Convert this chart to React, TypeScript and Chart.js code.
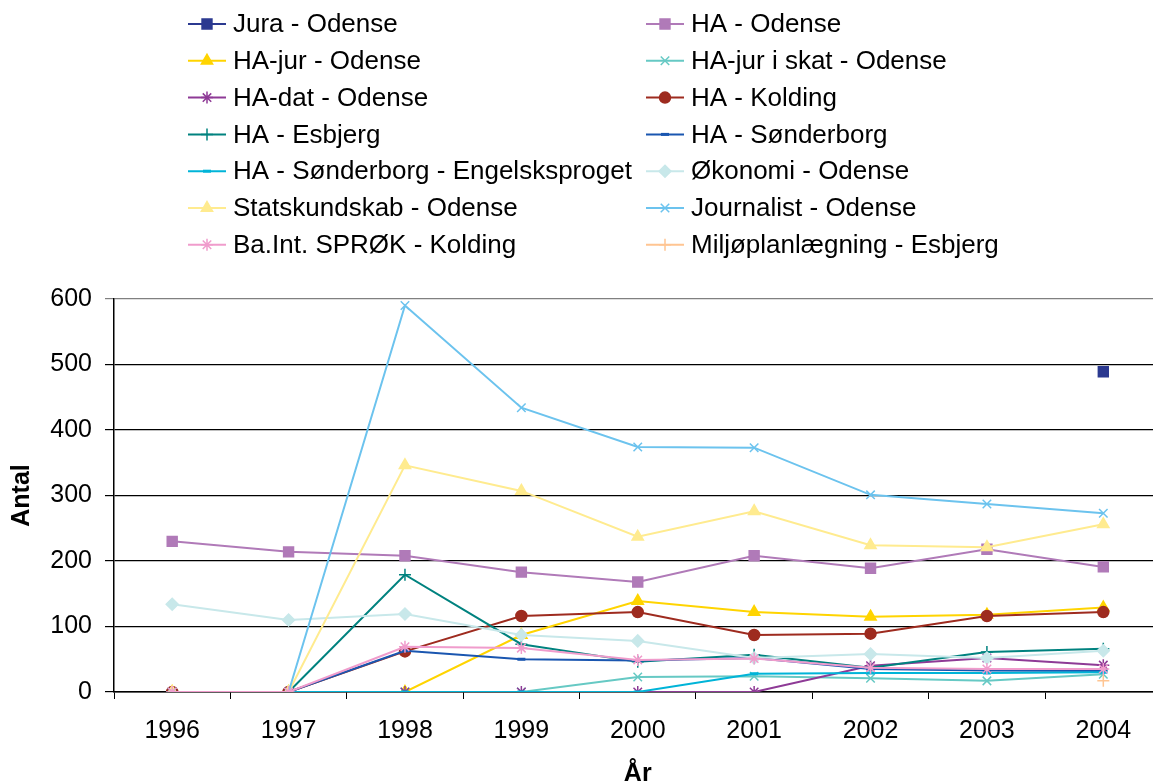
import React, { useEffect, useRef } from "react";
import { Chart, registerables } from "chart.js";
import { drawPoint } from "chart.js/helpers";

Chart.register(...registerables);

const years = ["1996", "1997", "1998", "1999", "2000", "2001", "2002", "2003", "2004"];
const yTicks = [0, 100, 200, 300, 400, 500, 600];

const juraOdense = [null, null, null, null, null, null, null, null, 489];
const haOdense = [230, 214, 208, 183, 168, 208, 189, 218, 191];
const haJurOdense = [0, 0, 0, 87, 139, 122, 115, 118, 129];
const haJurSkatOdense = [0, 0, 0, 0, 23, 24, 21, 17, 27];
const haDatOdense = [0, 0, 0, 0, 0, 0, 40, 52, 41];
const haKolding = [0, 0, 62, 116, 122, 87, 89, 116, 122];
const haEsbjerg = [0, 0, 179, 73, 46, 57, 37, 61, 66];
const haSonderborg = [0, 0, 63, 50, 48, 52, 35, 33, 32];
const haSonderborgEng = [0, 0, 0, 0, 0, 28, 29, 29, 30];
const okonomiOdense = [134, 110, 119, 87, 78, 52, 58, 52, 63];
const statskundskabOdense = [0, 0, 346, 307, 237, 276, 224, 221, 256];
const journalistOdense = [0, 0, 590, 434, 374, 373, 301, 287, 273];
const baIntKolding = [0, 0, 69, 67, 49, 51, 37, 35, 35];
const miljoEsbjerg = [null, null, null, null, null, null, null, null, 17];

const seriesNames = [
  "Jura - Odense",
  "HA - Odense",
  "HA-jur - Odense",
  "HA-jur i skat - Odense",
  "HA-dat - Odense",
  "HA - Kolding",
  "HA - Esbjerg",
  "HA - Sønderborg",
  "HA - Sønderborg - Engelsksproget",
  "Økonomi - Odense",
  "Statskundskab - Odense",
  "Journalist - Odense",
  "Ba.Int. SPRØK - Kolding",
  "Miljøplanlægning - Esbjerg",
];
const seriesData = [
  juraOdense, haOdense, haJurOdense, haJurSkatOdense, haDatOdense, haKolding, haEsbjerg,
  haSonderborg, haSonderborgEng, okonomiOdense, statskundskabOdense, journalistOdense,
  baIntKolding, miljoEsbjerg,
];
const seriesColors = [
  "#2B3990", "#B07AB8", "#FFD400", "#66C9C4", "#8E3A96", "#9E2B1F", "#00827F",
  "#1A56B0", "#00B4D8", "#C8E8EA", "#FFEB8F", "#6CC3EE", "#F09CCC", "#FFC592",
];
const seriesStyles = [
  "rect", "rect", "triangle", "crossRot", "star", "circle", "cross",
  "line", "line", "rectRot", "triangle", "crossRot", "star", "cross",
];
const seriesRadius = [7, 7, 6.5, 6, 6, 5.5, 6, 4, 4, 6, 6.5, 6, 6, 6];

const FONT = "'Liberation Sans', Arial, sans-serif";

const legendPlugin = {
  id: "twoColLegend",
  afterDraw(chart: any) {
    const ctx = chart.ctx;
    ctx.save();
    ctx.font = `26px ${FONT}`;
    ctx.textBaseline = "middle";
    ctx.textAlign = "left";
    seriesNames.forEach((name, i) => {
      const col = i % 2;
      const row = Math.floor(i / 2);
      const y = 24 + row * 36.8;
      const x0 = col === 0 ? 188 : 646;
      const color = seriesColors[i];
      ctx.strokeStyle = color;
      ctx.lineWidth = 2;
      ctx.beginPath();
      ctx.moveTo(x0, y);
      ctx.lineTo(x0 + 38, y);
      ctx.stroke();
      ctx.fillStyle = color;
      ctx.strokeStyle = color;
      ctx.lineWidth = seriesStyles[i] === "line" ? 3 : 1.5;
      drawPoint(ctx, { pointStyle: seriesStyles[i], radius: seriesRadius[i], rotation: 0, borderWidth: ctx.lineWidth }, x0 + 19, y);
      ctx.fillStyle = "#000";
      ctx.fillText(name, x0 + 45, y + 1);
    });
    ctx.restore();
  },
};

export default function App() {
  const ref = useRef<HTMLCanvasElement>(null);
  useEffect(() => {
    if (!ref.current) return;
    const datasets = seriesNames.map((name, i) => ({
      label: name,
      data: seriesData[i],
      borderColor: seriesColors[i],
      backgroundColor: seriesColors[i],
      pointBackgroundColor: seriesColors[i],
      pointBorderColor: seriesColors[i],
      pointStyle: seriesStyles[i],
      pointRadius: seriesRadius[i],
      pointBorderWidth: seriesStyles[i] === "line" ? 3 : 1.5,
      borderWidth: 2,
      tension: 0,
      spanGaps: false,
      order: seriesNames.length - i,
    }));
    const chart = new Chart(ref.current, {
      type: "line",
      data: { labels: years, datasets },
      plugins: [legendPlugin],
      options: {
        responsive: false,
        devicePixelRatio: 1,
        animation: false,
        layout: { padding: { top: 299, left: 0, right: 6.5, bottom: 0 } },
        plugins: { legend: { display: false }, tooltip: { enabled: false } },
        scales: {
          x: {
            type: "category",
            offset: true,
            grid: { offset: true, drawOnChartArea: false, color: "#000", tickLength: 7, lineWidth: 1 },
            border: { color: "#000", width: 1.5 },
            ticks: { color: "#000", font: { family: FONT, size: 25 }, padding: 17, maxRotation: 0 },
            title: {
              display: true,
              text: "År",
              color: "#000",
              font: { family: FONT, size: 25, weight: "bold", lineHeight: 1 },
              padding: { top: 0, bottom: -2.5 },
            },
            afterFit: (s: any) => { s.height = 784 - 692; },
          },
          y: {
            min: 0,
            max: 600,
            afterBuildTicks: (s: any) => { s.ticks = yTicks.map((v) => ({ value: v })); },
            grid: {
              color: (c: any) => (c.tick && c.tick.value === 600 ? "#808080" : "#000"),
              lineWidth: 1.2,
              tickLength: 9,
            },
            border: { color: "#000", width: 1.5 },
            ticks: { color: "#000", font: { family: FONT, size: 25 }, padding: 13 },
            title: {
              display: true,
              text: "Antal",
              color: "#000",
              font: { family: FONT, size: 25, weight: "bold", lineHeight: 1 },
              padding: { top: 9.5, bottom: 0 },
            },
            afterFit: (s: any) => { s.width = 114; },
          },
        },
      } as any,
    });
    return () => chart.destroy();
  }, []);
  return (
    <div style={{ position: "absolute", left: 0, top: 0, width: 1153, height: 784, overflow: "hidden", background: "#fff" }}>
      <canvas ref={ref} width={1170} height={784} style={{ display: "block", width: 1170, height: 784 }} />
    </div>
  );
}
